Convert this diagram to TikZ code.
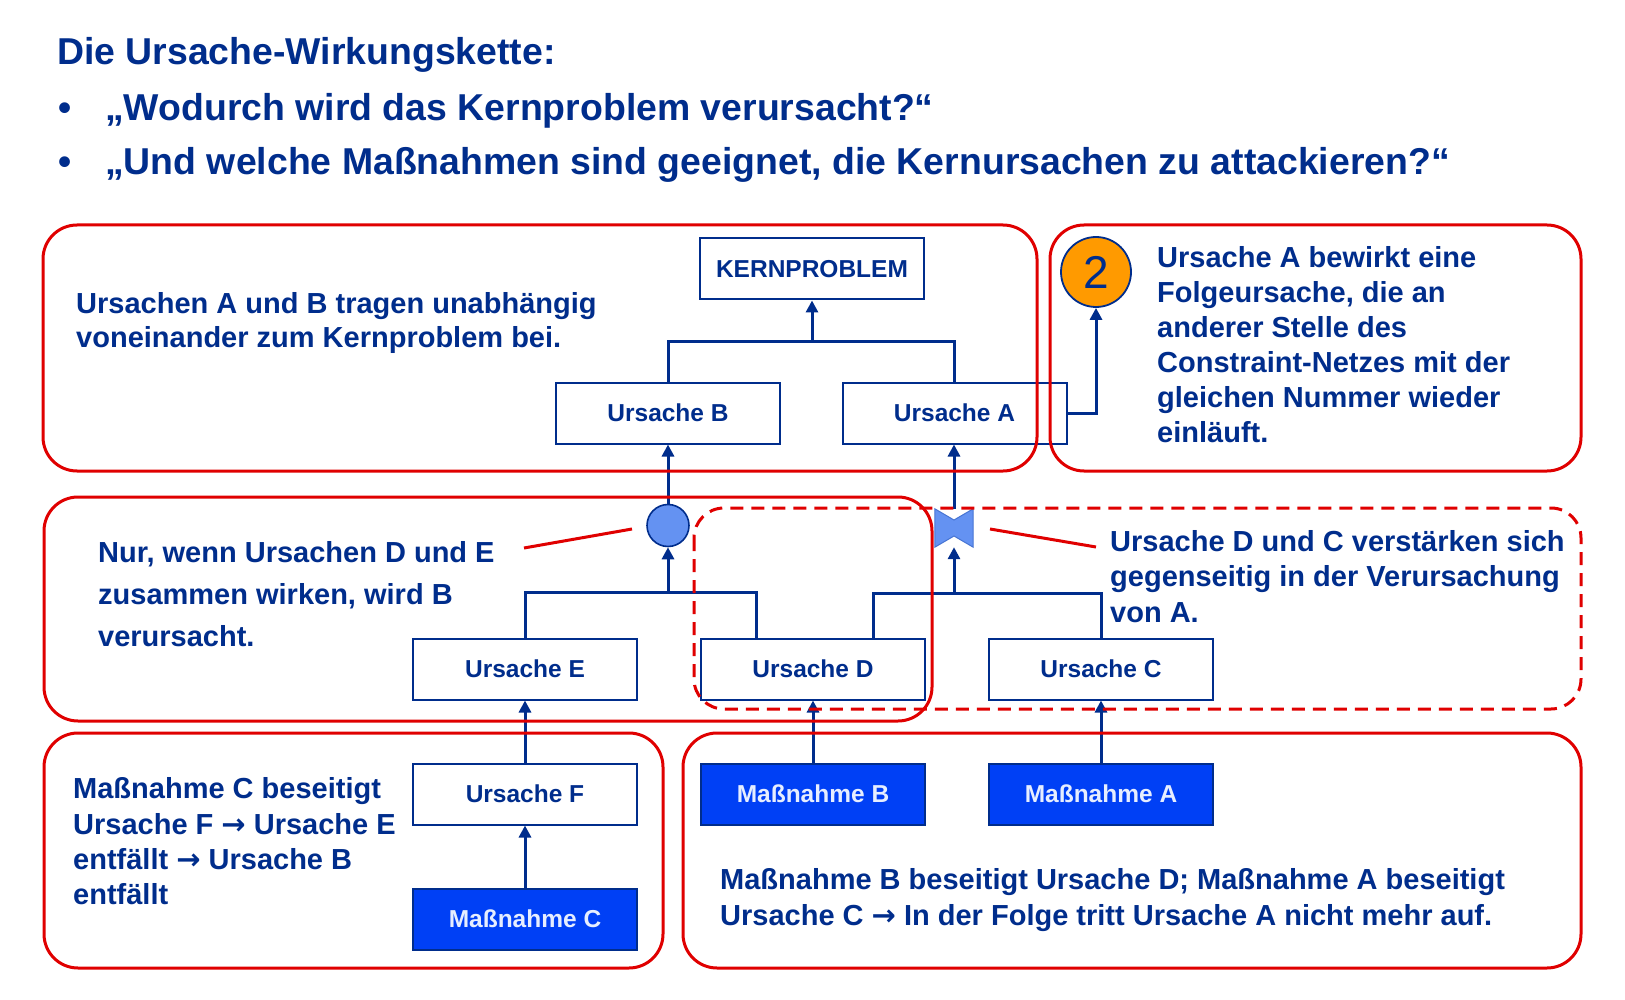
\documentclass[tikz,border=0pt]{standalone}
\usepackage{fontspec}
\setmainfont{Liberation Sans}
\newfontfamily\arrowfont{DejaVu Sans}
\usetikzlibrary{arrows.meta,calc}
\definecolor{navy}{HTML}{002D8C}
\definecolor{redc}{HTML}{E00000}
\definecolor{mblue}{HTML}{0040F5}
\definecolor{lblue}{HTML}{6492F2}
\definecolor{orangec}{HTML}{FF9A00}
\definecolor{mtext}{HTML}{E6EEFF}
\newcommand{\ar}{{\arrowfont →}}
\begin{document}
\begin{tikzpicture}[x=1pt,y=-1pt,
  cause/.style={draw=navy, line width=2pt, fill=white, minimum width=224pt, minimum height=61pt,
    inner sep=0pt, text=navy, font=\fontsize{24.5}{28}\selectfont\bfseries},
  measure/.style={cause, fill=mblue, text=mtext},
  wire/.style={draw=navy, line width=3pt},
  arr/.style={wire, -{Triangle[width=12pt,length=12pt]}},
  frame/.style={draw=redc, line width=3pt, rounded corners=34pt},
  dframe/.style={draw=redc, line width=3pt, rounded corners=30pt, dash pattern=on 13pt off 8pt},
  redline/.style={draw=redc, line width=3pt},
  titletext/.style={anchor=base west, inner sep=0pt, text=navy, font=\fontsize{37.4}{42}\selectfont\bfseries},
  note/.style={anchor=west, inner sep=0pt, align=left, text=navy},
]
\useasboundingbox (0,0) rectangle (1625,1000);
\fill[white] (0,0) rectangle (1625,1000);

% title
\node[titletext] (t0) at (57,65) {Die Ursache-Wirkungskette:};
\node[titletext] (b1) at (58,121) {•};
\node[titletext] (t1) at (105,121) {„Wodurch wird das Kernproblem verursacht?“};
\node[titletext] (b2) at (58,175) {•};
\node[titletext] (t2) at (105,175) {„Und welche Maßnahmen sind geeignet, die Kernursachen zu attackieren?“};

% cause boxes
\node[cause] (kp) at (812,269) {KERNPROBLEM};
\node[cause] (ub) at (668,413) {Ursache B};
\node[cause] (ua) at (954.5,413) {Ursache A};
\node[cause] (ue) at (525,669) {Ursache E};
\node[cause] (ud) at (813,669) {Ursache D};
\node[cause] (uc) at (1101,669) {Ursache C};
\node[cause] (uf) at (525,794) {Ursache F};
\node[measure] (mc) at (525,919) {Maßnahme C};
\node[measure] (mb) at (813,794) {Maßnahme B};
\node[measure] (ma) at (1101,794) {Maßnahme A};

% number circle
\node[circle, draw=navy, line width=1.8pt, fill=orangec, minimum size=70pt, inner sep=0pt,
  text=navy, font=\fontsize{46}{50}\selectfont] (c2) at (1096,272) {2};

% AND circle
\node[circle, draw=navy, line width=1.6pt, fill=lblue, minimum size=42pt, inner sep=0pt] (andc) at (668,525.5) {};

% bowtie (placeholder node + shape)
\node[minimum width=38pt, minimum height=38pt, inner sep=0pt] (bt) at (954,528) {};
\fill[lblue, draw=lblue!70!navy, line width=1pt]
  (bt.north west) -- ($(bt.center)+(0,-8)$) -- (bt.north east) -- (bt.south east)
  -- ($(bt.center)+(0,8)$) -- (bt.south west) -- cycle;

% connectors
\coordinate (j1) at (812,341);
\draw[wire] (ub.north) |- (j1) -| (ua.north);
\draw[arr] (j1) -- (kp.south);
\draw[arr] (ua.east) -| (c2.south);

\coordinate (j2) at (668,592);
\coordinate (dl) at (756,638.5);
\draw[wire] (ue.north) |- (j2) -| (dl);
\draw[arr] (j2) -- (andc.south);
\draw[arr] (andc.north) -- (ub.south);

\coordinate (j3) at (954,593);
\coordinate (dr) at (873,638.5);
\draw[wire] (dr) |- (j3) -| (uc.north);
\draw[arr] (j3) -- (bt.south);
\draw[arr] (bt.north) -- (ua.south -| bt.north);

\draw[arr] (uf.north) -- (ue.south);
\draw[arr] (mc.north) -- (uf.south);
\draw[arr] (mb.north) -- (ud.south);
\draw[arr] (ma.north) -- (uc.south);

% red annotation lines
\coordinate (r1a) at (524,548);
\coordinate (r1b) at (632,529);
\draw[redline] (r1a) -- (r1b);
\coordinate (r2a) at (990,529);
\coordinate (r2b) at (1096,547);
\draw[redline] (r2a) -- (r2b);

% notes
\node[note, font=\fontsize{29}{34}\selectfont\bfseries] (n1) at (76,323)
  {Ursachen A und B tragen unabhängig\\voneinander zum Kernproblem bei.};
\node[note, font=\fontsize{29}{42}\selectfont\bfseries] (n2) at (98,594.5)
  {Nur, wenn Ursachen D und E\\zusammen wirken, wird B\\verursacht.};
\node[note, font=\fontsize{29}{35}\selectfont\bfseries] (n3) at (1157,344.5)
  {Ursache A bewirkt eine\\Folgeursache, die an\\anderer Stelle des\\Constraint-Netzes mit der\\gleichen Nummer wieder\\einläuft.};
\node[note, font=\fontsize{29}{35.5}\selectfont\bfseries] (n4) at (1110,576.5)
  {Ursache D und C verstärken sich\\gegenseitig in der Verursachung\\von A.};
\node[note, font=\fontsize{29}{35.3}\selectfont\bfseries] (n5) at (73,841.5)
  {Maßnahme C beseitigt\\Ursache F \ar{} Ursache E\\entfällt \ar{} Ursache B\\entfällt};
\node[note, font=\fontsize{29}{36}\selectfont\bfseries] (n6) at (720,900.5)
  {Maßnahme B beseitigt Ursache D; Maßnahme A beseitigt\\Ursache C \ar{} In der Folge tritt Ursache A nicht mehr auf.};

% red frames
\draw[frame] (43,225) rectangle (1037,471);
\draw[frame] (1050,225) rectangle (1581,471);
\draw[frame] (44,497) rectangle (932,721);
\draw[dframe] (694,508) rectangle (1581,709);
\draw[frame] (44,733) rectangle (663,968);
\draw[frame] (683,733) rectangle (1581,968);
\end{tikzpicture}
\end{document}
